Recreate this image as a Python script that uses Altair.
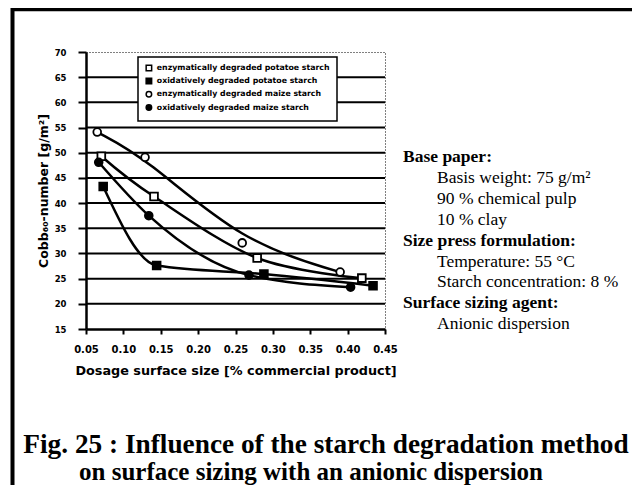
import altair as alt
import pandas as pd

# ---- data ----
series_names = [
    "enzymatically degraded potatoe starch",
    "oxidatively degraded potatoe starch",
    "enzymatically degraded maize starch",
    "oxidatively degraded maize starch",
]
ep_x = [0.0705, 0.141, 0.279, 0.419]
ep_y = [49.3, 41.3, 29.1, 25.1]
op_x = [0.073, 0.1445, 0.288, 0.434]
op_y = [43.3, 27.6, 25.9, 23.6]
em_x = [0.065, 0.129, 0.259, 0.390]
em_y = [54.1, 49.1, 32.1, 26.3]
om_x = [0.067, 0.134, 0.268, 0.404]
om_y = [48.1, 37.5, 25.7, 23.3]

x_ticks = [0.05, 0.10, 0.15, 0.20, 0.25, 0.30, 0.35, 0.40, 0.45]
y_ticks = [15, 20, 25, 30, 35, 40, 45, 50, 55, 60, 65, 70]
grid_vals = [20, 25, 30, 35, 40, 45, 50, 55, 60, 65]

info_lines = [
    "Base paper:",
    "Basis weight: 75 g/m²",
    "90 % chemical pulp",
    "10 % clay",
    "Size press formulation:",
    "Temperature: 55 °C",
    "Starch concentration: 8 %",
    "Surface sizing agent:",
    "Anionic dispersion",
]
info_bold = [True, False, False, False, True, False, False, True, False]
caption_lines = [
    "Fig. 25 : Influence of the starch degradation method",
    "on surface sizing with an anionic dispersion",
]

rows = []
for name, xs, ys in zip(series_names, [ep_x, op_x, em_x, om_x], [ep_y, op_y, em_y, om_y]):
    for xv, yv in zip(xs, ys):
        rows.append({"series": name, "x": xv, "y": yv})
df = pd.DataFrame(rows)

W, H = 299, 277

xscale = alt.Scale(domain=[0.05, 0.45], nice=False, zero=False)
yscale = alt.Scale(domain=[15, 70], nice=False, zero=False)

x_axis = alt.Axis(
    values=x_ticks, format=".2f", grid=False, tickSize=5, labelPadding=10,
    labelFontSize=10, labelOverlap=False, labelFlush=False,
    title="Dosage surface size [% commercial product]",
    titleFontSize=12.8, titlePadding=10)
y_axis = alt.Axis(
    values=y_ticks, grid=False, tickSize=8, labelPadding=12, labelFontSize=8.5,
    labelOverlap=False, labelFlush=False,
    title="Cobb₆₀-number [g/m²]", titleFontSize=12.5, titlePadding=4)

x_enc = alt.X("x:Q", scale=xscale, axis=x_axis)
y_enc = alt.Y("y:Q", scale=yscale, axis=y_axis)

grid = alt.Chart(pd.DataFrame({"v": grid_vals})).mark_rule(
    color="black", strokeWidth=2).encode(
    y=alt.Y("v:Q", scale=yscale, axis=y_axis))

interps = ["cardinal", "monotone", "basis", "monotone"]
line_layers = []
for name, ip in zip(series_names, interps):
    line_layers.append(
        alt.Chart(df).transform_filter(alt.datum.series == name).mark_line(
            color="black", strokeWidth=2.5, interpolate=ip).encode(
            x=x_enc, y=y_enc, order="x:Q"))

leg = alt.Legend(title=None)
points = alt.Chart(df).mark_point(
    filled=False, strokeWidth=1.8, size=60, opacity=1).encode(
    x=x_enc,
    y=y_enc,
    shape=alt.Shape("series:N", scale=alt.Scale(
        domain=series_names, range=["square", "square", "circle", "circle"]),
        legend=leg),
    fill=alt.Fill("series:N", scale=alt.Scale(
        domain=series_names, range=["white", "black", "white", "black"]),
        legend=leg),
    stroke=alt.Stroke("series:N", scale=alt.Scale(
        domain=series_names, range=["black", "black", "black", "black"]),
        legend=leg),
)

one = pd.DataFrame({"k": [0]})
frame_top = alt.Chart(one).mark_rule(color="black", strokeWidth=3.5).encode(
    x=alt.value(-74), x2=alt.value(550), y=alt.value(-42.5))
frame_left = alt.Chart(one).mark_rule(color="black", strokeWidth=4).encode(
    x=alt.value(-73.5), y=alt.value(-44), y2=alt.value(440))

layers = [grid] + line_layers + [points, frame_top, frame_left]

x0_head, x0_ind, y0, dy = 317, 351, 105, 20.9
for i, (t, b) in enumerate(zip(info_lines, info_bold)):
    layers.append(
        alt.Chart(pd.DataFrame({"t": [t]})).mark_text(
            font="Liberation Serif", fontSize=17.5,
            fontWeight="bold" if b else "normal",
            align="left", baseline="middle", color="black").encode(
            text="t:N",
            x=alt.value(x0_head if b else x0_ind),
            y=alt.value(y0 + i * dy)))

cap_style = [(240, 393, 27.3), (225, 420, 25)]
for t, (cx, cy, fs) in zip(caption_lines, cap_style):
    layers.append(
        alt.Chart(pd.DataFrame({"t": [t]})).mark_text(
            font="Liberation Serif", fontSize=fs, fontWeight="bold",
            align="center", baseline="middle", color="black").encode(
            text="t:N", x=alt.value(cx), y=alt.value(cy)))

chart = alt.layer(*layers).properties(
    width=W, height=H,
    autosize=alt.AutoSizeParams(type="none"),
    padding={"left": 78, "top": 44, "right": 247, "bottom": 156},
    background="white",
).configure_view(
    stroke="black", strokeDash=[1, 2], strokeWidth=1
).configure_axis(
    domainColor="black", domainWidth=2.5, tickColor="black", tickWidth=2,
    labelOverlap=False,
    labelFont="DejaVu Sans", labelFontWeight="bold", labelColor="black",
    titleFont="DejaVu Sans", titleFontWeight="bold", titleColor="black",
).configure_legend(
    orient="none", legendX=52, legendY=5,
    strokeColor="black", strokeWidth=1.5, fillColor="white",
    padding=7, rowPadding=1.2, symbolSize=30, symbolStrokeWidth=1.5,
    labelFont="DejaVu Sans", labelFontWeight="bold", labelFontSize=7.8,
    labelColor="black", labelLimit=400,
)

chart.save("out.html", embed_options={"renderer": "svg", "actions": False})
